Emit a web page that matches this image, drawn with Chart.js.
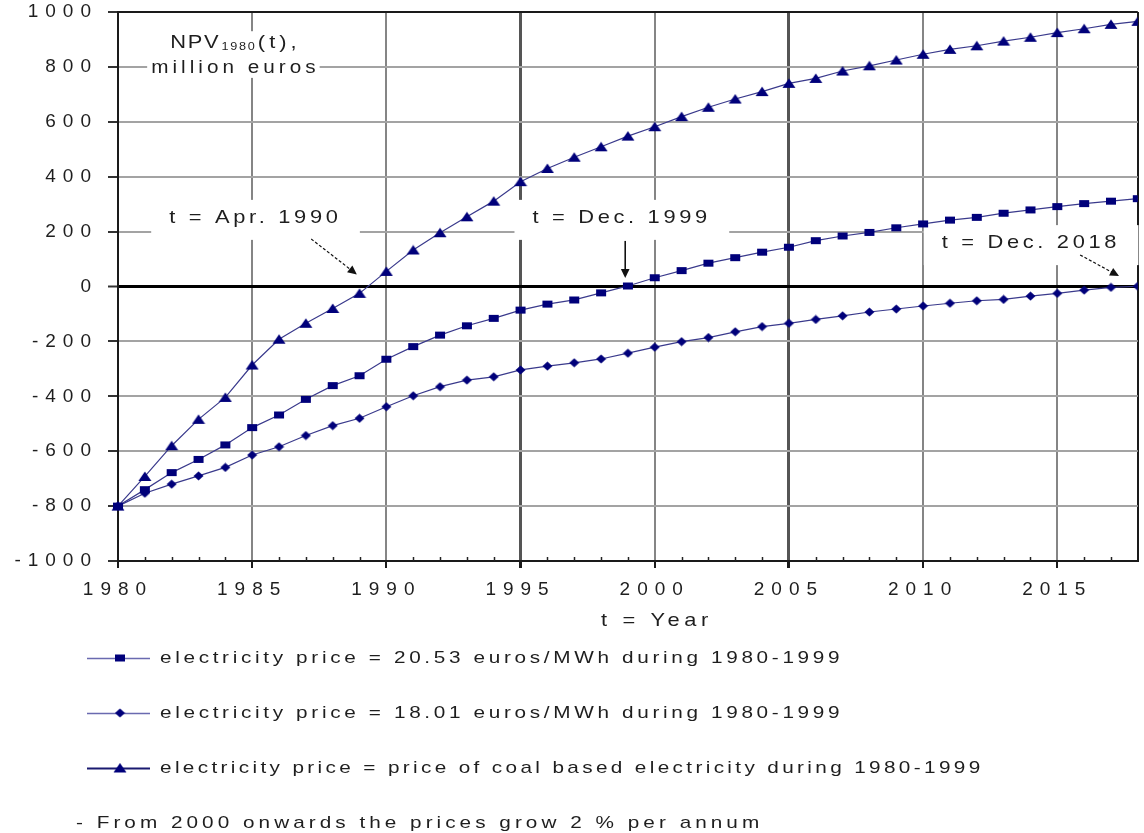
<!DOCTYPE html>
<html>
<head>
<meta charset="utf-8">
<script src="https://cdn.jsdelivr.net/npm/chart.js@4.4.0/dist/chart.umd.min.js"></script>
<style>
  html, body { margin: 0; padding: 0; background: #ffffff; }
  #wrap { width: 1144px; height: 833px; }
</style>
</head>
<body>
<div id="wrap"><canvas id="npv" width="1144" height="833"></canvas></div>
<script>
// ---- data: net present value (million euros), discounted to 1980 ----
const years = [1980, 1981, 1982, 1983, 1984, 1985, 1986, 1987, 1988, 1989,
               1990, 1991, 1992, 1993, 1994, 1995, 1996, 1997, 1998, 1999,
               2000, 2001, 2002, 2003, 2004, 2005, 2006, 2007, 2008, 2009,
               2010, 2011, 2012, 2013, 2014, 2015, 2016, 2017, 2018];

const npvPrice2053 = [-800, -740, -678, -630, -577, -514, -468, -411, -361, -325,
                      -265, -219, -177, -143, -116, -86, -64, -49, -23, 2,
                      32, 58, 85, 105, 125, 143, 167, 184, 197, 214,
                      228, 242, 252, 267, 279, 291, 302, 311, 320];

const npvPrice1801 = [-800, -753, -720, -690, -659, -614, -584, -543, -507, -480,
                      -438, -398, -365, -341, -329, -304, -290, -278, -264, -243,
                      -221, -201, -186, -165, -146, -134, -120, -107, -93, -82,
                      -71, -61, -52, -47, -35, -25, -13, -3, 1];

const npvCoalPrice = [-800, -692, -580, -484, -404, -286, -192, -134, -80, -25,
                      55, 133, 196, 254, 311, 382, 430, 471, 509, 548,
                      582, 619, 653, 683, 710, 740, 758, 785, 804, 825,
                      846, 864, 877, 894, 908, 925, 939, 955, 966];

const seriesLabels = [
  'electricity price = 20.53 euros/MWh during 1980-1999',
  'electricity price = 18.01 euros/MWh during 1980-1999',
  'electricity price = price of coal based electricity during 1980-1999'
];

const xLabelYears = [1980, 1985, 1990, 1995, 2000, 2005, 2010, 2015];
const xTitle = 't = Year';
const yTitleMain = 'NPV';
const yTitleSub = '1980';
const yTitleTail = '(t),';
const yTitleUnit = 'million euros';
const noteText = '- From 2000 onwards the prices grow 2 % per annum';

// break-even callouts: label, label anchor, arrow start / end (data units)
const callouts = [
  { text: 't = Apr. 1990', at: [1985.05, 250], from: [1987.2, 173], to: [1988.9, 44], dashed: true },
  { text: 't = Dec. 1999', at: [1998.7, 250],  from: [1998.9, 166], to: [1998.9, 31], dashed: false },
  { text: 't = Dec. 2018', at: [2013.95, 158], from: [2015.85, 115], to: [2017.3, 38], dashed: true }
];

// ---- styling ----
const FONT = '"Liberation Sans", Arial, sans-serif';
const TXT = '#1e1e1e';
const MARK = '#00007a';
const LINE = '#3a3a8c';
const TICK_SPACING = '7px';

function marker(kind) {
  const c = document.createElement('canvas');
  const dims = { rect: [12, 9], tri: [14, 11], dia: [11, 10] }[kind];
  c.width = dims[0]; c.height = dims[1];
  const g = c.getContext('2d');
  const w = c.width, h = c.height;
  g.fillStyle = MARK;
  g.beginPath();
  if (kind === 'rect') {
    g.rect(1, 1, w - 2, h - 2);
  } else if (kind === 'tri') {
    g.moveTo(w / 2, 0.5); g.lineTo(w - 0.5, h - 1); g.lineTo(0.5, h - 1); g.closePath();
  } else {
    g.moveTo(w / 2, 0.5); g.lineTo(w - 0.5, h / 2); g.lineTo(w / 2, h - 0.5); g.lineTo(0.5, h / 2); g.closePath();
  }
  g.fill();
  return c;
}

const markers = [marker('rect'), marker('dia'), marker('tri')];
const seriesValues = [npvPrice2053, npvPrice1801, npvCoalPrice];

const datasets = seriesValues.map((vals, i) => ({
  label: seriesLabels[i],
  data: years.map((yr, k) => ({ x: yr, y: vals[k] })),
  borderColor: LINE,
  borderWidth: 1.2,
  pointStyle: markers[i],
  pointRadius: 5,
  pointHoverRadius: 5,
  tension: 0,
  clip: { left: 10, top: 10, right: 0, bottom: 10 }
}));

// text with letter spacing and a horizontal stretch; returns the visible width
function measureSpaced(ctx, text, size, sp, sx) {
  ctx.save();
  ctx.font = size + 'px ' + FONT;
  ctx.letterSpacing = sp + 'px';
  const w = (ctx.measureText(text).width - sp) * (sx || 1);
  ctx.restore();
  return w;
}

function spaced(ctx, text, x, y, size, sp, align, sx) {
  sx = sx || 1;
  const w = measureSpaced(ctx, text, size, sp, sx);
  let left = x;
  if (align === 'center') left = x - w / 2;
  else if (align === 'right') left = x - w;
  ctx.save();
  ctx.font = size + 'px ' + FONT;
  ctx.letterSpacing = sp + 'px';
  ctx.fillStyle = TXT;
  ctx.textBaseline = 'middle';
  ctx.textAlign = 'left';
  ctx.translate(left, y);
  ctx.scale(sx, 1);
  ctx.fillText(text, 0, 0);
  ctx.restore();
  return w;
}

function arrow(ctx, x1, y1, x2, y2, dashed) {
  const ang = Math.atan2(y2 - y1, x2 - x1);
  const head = 10;
  ctx.save();
  ctx.strokeStyle = '#111';
  ctx.fillStyle = '#111';
  ctx.lineWidth = dashed ? 1.2 : 1.6;
  if (dashed) ctx.setLineDash([3, 2]);
  ctx.beginPath();
  ctx.moveTo(x1, y1);
  ctx.lineTo(x2 - Math.cos(ang) * head * 0.6, y2 - Math.sin(ang) * head * 0.6);
  ctx.stroke();
  ctx.setLineDash([]);
  ctx.beginPath();
  ctx.moveTo(x2, y2);
  ctx.lineTo(x2 - head * Math.cos(ang - 0.45), y2 - head * Math.sin(ang - 0.45));
  ctx.lineTo(x2 - head * Math.cos(ang + 0.45), y2 - head * Math.sin(ang + 0.45));
  ctx.closePath();
  ctx.fill();
  ctx.restore();
}

const CALL_SIZE = 19, CALL_SP = 3.2, CALL_SX = 1.15;

const decor = {
  id: 'decor',
  beforeLayout(chart) { chart.ctx.letterSpacing = TICK_SPACING; },
  beforeDraw(chart) { chart.ctx.letterSpacing = TICK_SPACING; },
  beforeDatasetsDraw(chart) {
    const { ctx, scales: { x, y } } = chart;
    ctx.save();
    ctx.fillStyle = '#ffffff';
    // panel behind the axis caption
    const cx = x.getPixelForValue(1984.3);
    const capW = measureSpaced(ctx, yTitleUnit, 18, 3.5, 1.15) + 8;
    ctx.fillRect(cx - capW / 2, y.getPixelForValue(930), capW, y.getPixelForValue(760) - y.getPixelForValue(930));
    // panels behind the callout labels
    callouts.forEach(c => {
      const px = x.getPixelForValue(c.at[0]);
      const py = y.getPixelForValue(c.at[1]);
      const w = measureSpaced(ctx, c.text, CALL_SIZE, CALL_SP, CALL_SX);
      ctx.fillRect(px - w / 2 - 18, py - 18, w + 40, 40);
    });
    ctx.restore();
  },
  afterDraw(chart) {
    const { ctx, scales: { x, y }, chartArea } = chart;
    ctx.save();
    ctx.letterSpacing = '0px';

    // minor year ticks along the bottom axis
    ctx.strokeStyle = '#222';
    ctx.lineWidth = 1.5;
    years.forEach(yr => {
      if (yr % 5 === 0 || yr === years[years.length - 1]) return;
      const px = Math.round(x.getPixelForValue(yr)) + 0.5;
      ctx.beginPath();
      ctx.moveTo(px, chartArea.bottom);
      ctx.lineTo(px, chartArea.bottom - 4);
      ctx.stroke();
    });

    // axis caption inside the plot
    const cx = x.getPixelForValue(1984.3);
    const l1y = y.getPixelForValue(888);
    const wMain = measureSpaced(ctx, yTitleMain, 19, 1.5, 1.15);
    const wSub = measureSpaced(ctx, yTitleSub, 11, 1.5, 1.15);
    const wTail = measureSpaced(ctx, yTitleTail, 19, 3.5, 1.15);
    let lx = cx - (wMain + wSub + wTail + 6) / 2;
    spaced(ctx, yTitleMain, lx, l1y, 19, 1.5, 'left', 1.15);
    lx += wMain + 3;
    spaced(ctx, yTitleSub, lx, l1y + 4, 11, 1.5, 'left', 1.15);
    lx += wSub + 3;
    spaced(ctx, yTitleTail, lx, l1y, 19, 3.5, 'left', 1.15);
    spaced(ctx, yTitleUnit, cx, y.getPixelForValue(795), 18, 3.5, 'center', 1.15);

    // break-even callouts
    callouts.forEach(c => {
      spaced(ctx, c.text, x.getPixelForValue(c.at[0]), y.getPixelForValue(c.at[1]), CALL_SIZE, CALL_SP, 'center', CALL_SX);
      arrow(ctx, x.getPixelForValue(c.from[0]), y.getPixelForValue(c.from[1]),
                 x.getPixelForValue(c.to[0]), y.getPixelForValue(c.to[1]), c.dashed);
    });

    // x axis title, centred under the year 2000
    spaced(ctx, xTitle, x.getPixelForValue(2000), chartArea.bottom + 60, 19, 4, 'center', 1.15);

    // legend
    const rowTop = chartArea.bottom + 97;
    chart.data.datasets.forEach((ds, i) => {
      const ry = rowTop + i * 55;
      ctx.strokeStyle = i === 2 ? '#1a1a70' : '#6a6ab0';
      ctx.lineWidth = i === 2 ? 2 : 1.3;
      ctx.beginPath();
      ctx.moveTo(87, ry + 0.5);
      ctx.lineTo(150, ry + 0.5);
      ctx.stroke();
      const m = ds.pointStyle;
      ctx.drawImage(m, 120 - m.width / 2, ry - m.height / 2);
      spaced(ctx, ds.label, 160, ry, 17, i === 2 ? 2.75 : 3.0, 'left', 1.22);
    });
    spaced(ctx, noteText, 76, rowTop + 3 * 55, 17, 3.3, 'left', 1.22);
    ctx.restore();
  }
};

const gridX = v => {
  if (v === 2018) return '#1a1a1a';
  if (v % 5 !== 0 || v === 1980) return 'rgba(0,0,0,0)';
  if (v === 1995 || v === 2005) return '#555555';
  return '#858585';
};

new Chart(document.getElementById('npv'), {
  type: 'line',
  data: { datasets },
  options: {
    responsive: false,
    animation: false,
    devicePixelRatio: 1,
    events: [],
    layout: { padding: { left: 0, top: 12, right: 3, bottom: 212 } },
    plugins: { legend: { display: false }, tooltip: { enabled: false } },
    scales: {
      x: {
        type: 'linear',
        min: years[0],
        max: years[years.length - 1],
        afterFit(s) { s.height = 60; s.paddingLeft = 0; s.paddingRight = 0; },
        ticks: {
          stepSize: 1,
          autoSkip: false,
          maxRotation: 0,
          padding: 10,
          color: TXT,
          font: { family: FONT, size: 19 },
          callback: v => (xLabelYears.includes(v) ? String(v) : '')
        },
        grid: {
          color: c => gridX(c.tick.value),
          lineWidth: c => (c.tick.value === 1995 || c.tick.value === 2005 ? 3 : 2),
          tickColor: c => (c.tick.value % 5 === 0 && c.tick.value !== 2018 ? '#1a1a1a' : 'rgba(0,0,0,0)'),
          tickWidth: c => (c.tick.value === 1995 || c.tick.value === 2005 ? 3 : 2),
          tickLength: 7
        },
        border: { color: '#1a1a1a', width: 2 }
      },
      y: {
        min: -1000,
        max: 1000,
        afterFit(s) { s.width = 118; s.paddingTop = 0; s.paddingBottom = 0; },
        ticks: {
          stepSize: 200,
          padding: 10,
          color: TXT,
          font: { family: FONT, size: 19 },
          callback: v => String(v)
        },
        grid: {
          color: c => (c.tick.value === 0 ? '#000000' : c.tick.value === 1000 ? '#1a1a1a' : '#a3a3a3'),
          lineWidth: c => (c.tick.value === 0 ? 3 : 2),
          tickColor: '#333333',
          tickWidth: 2,
          tickLength: 10
        },
        border: { color: '#1a1a1a', width: 2 }
      }
    }
  },
  plugins: [decor]
});
</script>
</body>
</html>
